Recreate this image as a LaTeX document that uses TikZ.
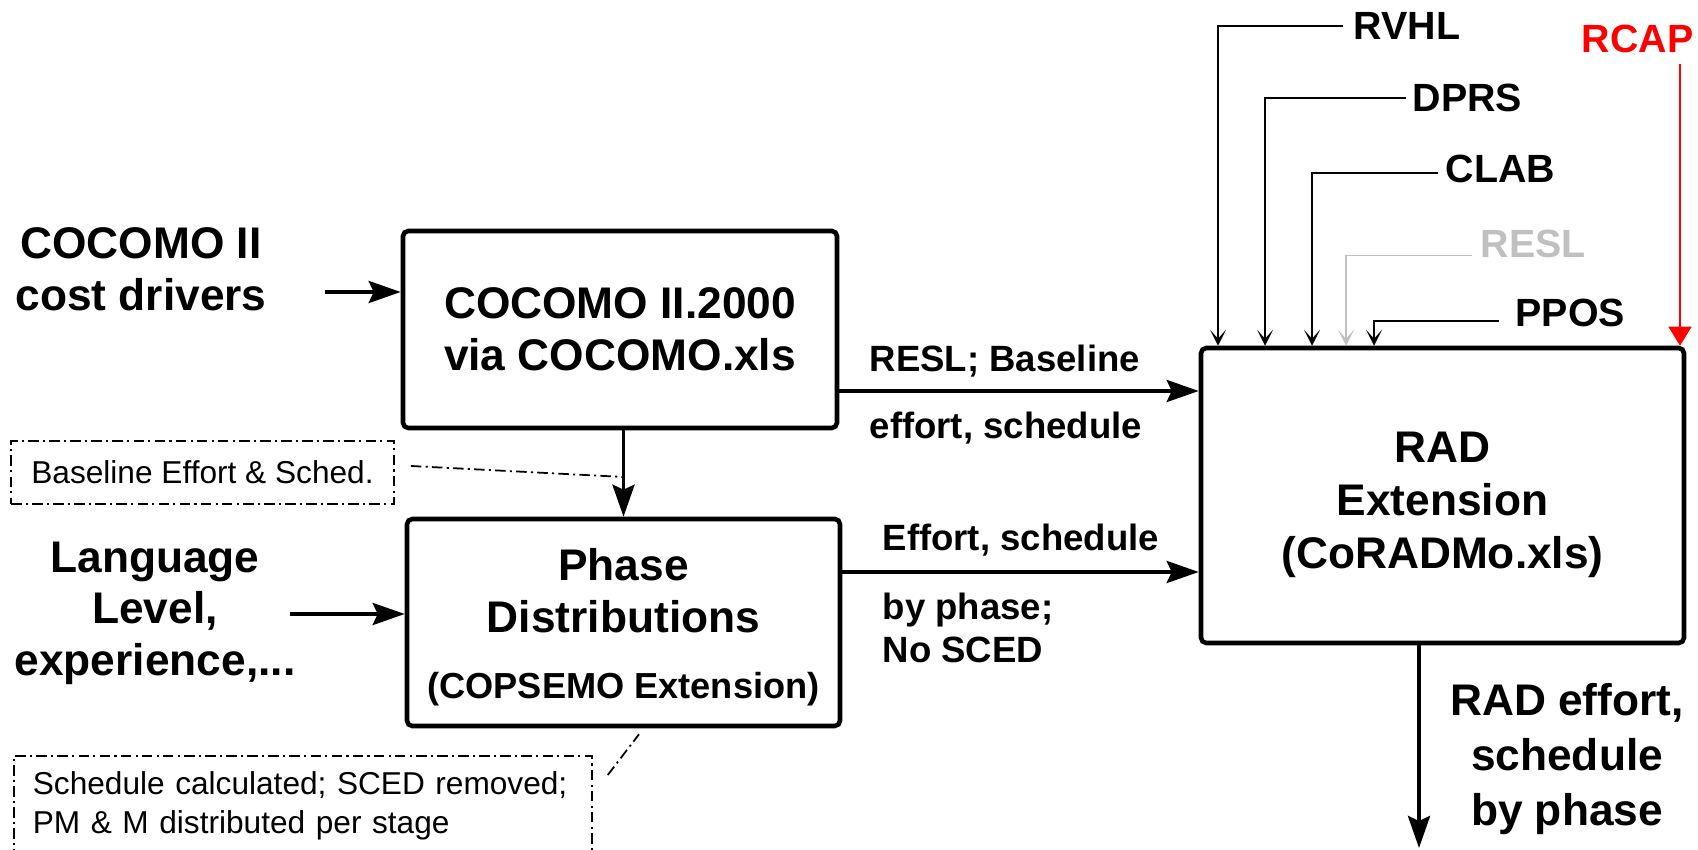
\documentclass[tikz,border=0pt]{standalone}
\usepackage{fontspec}
\setmainfont{Liberation Sans}
\usepackage{tikz}
\usetikzlibrary{arrows.meta,positioning,calc}
\definecolor{reslgray}{RGB}{192,192,192}
\definecolor{capred}{RGB}{255,0,0}

\begin{document}
\begin{tikzpicture}[
    model/.style={rectangle, draw, line width=1.3pt, rounded corners=1.5pt, align=center, inner sep=0pt,
        font=\fontsize{12.6}{14.7}\selectfont\bfseries},
    bigtext/.style={align=center, inner sep=0pt, font=\fontsize{12.6}{14.7}\selectfont\bfseries},
    resulttext/.style={align=center, inner sep=0pt, font=\fontsize{12.6}{15.7}\selectfont\bfseries},
    flowtext/.style={anchor=base west, inner sep=0pt, font=\fontsize{10.4}{12.3}\selectfont\bfseries},
    drivertext/.style={anchor=west, inner sep=0pt, font=\fontsize{11.2}{13}\selectfont\bfseries},
    notebox/.style={draw, dash pattern=on 3pt off 1.2pt on 0.6pt off 1.2pt, line width=0.5pt, font=\fontsize{9}{11}\selectfont},
    flow/.style={-{Stealth[length=3.2mm,width=2.2mm,inset=0.5mm]}, line width=1.1pt},
    driver/.style={-{Stealth[length=1.6mm,width=1.6mm,inset=0.9mm]}, line width=0.45pt},
    capflow/.style={-{Triangle[length=1.9mm,width=2.3mm]}, line width=0.5pt, capred},
    noteline/.style={dash pattern=on 3pt off 1.2pt on 0.6pt off 1.2pt, line width=0.5pt}
]
    \useasboundingbox (0,0) rectangle (16.98,-8.5);

    % models
    \node[model, minimum width=4.34cm, minimum height=1.97cm] (cocomo) at (6.20,-3.295) {COCOMO II.2000\\via COCOMO.xls};
    \node[model, minimum width=4.33cm, minimum height=2.07cm] (phase) at (6.235,-6.225)
        {\rule{0pt}{12pt}Phase\\Distributions\\[4.1pt]\fontsize{10.3}{12}\selectfont(COPSEMO Extension)};
    \node[model, minimum width=4.83cm, minimum height=2.95cm, font=\fontsize{12.6}{15}\selectfont\bfseries] (rad) at (14.425,-4.955)
        {\rule{0pt}{13.9pt}RAD\\Extension\\(CoRADMo.xls)};

    % inputs and output
    \node[bigtext] (drivers) at (1.41,-2.69) {COCOMO II\\cost drivers};
    \node[bigtext] (lang) at (1.55,-6.133) {Language\\Level,\\experience,...};
    \node[resulttext] (result) at (15.67,-7.59) {RAD effort,\\schedule\\by phase};
    \coordinate (in1) at (3.25,-2.92);
    \coordinate (in2) at (2.90,-6.14);
    \coordinate (out) at (14.19,-8.48);

    \draw[flow] (in1) -- (in1 -| cocomo.west);
    \draw[flow] (in2) -- (in2 -| phase.west);
    \draw[flow] (phase.north |- cocomo.south) -- (phase.north);
    \draw[flow] ([yshift=-6.15mm]cocomo.east) -- ([yshift=-6.15mm]cocomo.east -| rad.west);
    \draw[flow] ([yshift=5.05mm]phase.east) -- ([yshift=5.05mm]phase.east -| rad.west);
    \draw[flow] (out |- rad.south) -- (out);

    % flow labels
    \node[flowtext] (lbl1a) at (8.69,-3.715) {RESL; Baseline};
    \node[flowtext] (lbl1b) at (8.69,-4.385) {effort, schedule};
    \node[flowtext] (lbl2a) at (8.82,-5.51) {Effort, schedule};
    \node[flowtext] (lbl2b) at (8.82,-6.195) {by phase;};
    \node[flowtext] (lbl2c) at (8.82,-6.63) {No SCED};

    % notes
    \node[notebox, minimum width=3.83cm, minimum height=0.63cm, inner sep=0pt] (basenote) at (2.025,-4.725) {Baseline Effort \& Sched.};
    \node[notebox, anchor=north west, text width=5.40cm, align=left, inner xsep=1.9mm, inner ysep=1.6mm] (phasenote) at (0.13,-7.55)
        {Schedule calculated; SCED removed;\\PM \& M distributed per stage};
    \draw[noteline] ([xshift=1.6mm,yshift=0.65mm]basenote.east) -- (phase.north |- 0,-4.77);
    \draw[noteline] ([xshift=1.5mm,yshift=-2mm]phasenote.north east) -- ([xshift=1.55mm,yshift=-0.6mm]phase.south);

    % drivers into RAD
    \node[drivertext] (rvhl) at (13.53,-0.26) {RVHL};
    \node[drivertext] (dprs) at (14.12,-0.98) {DPRS};
    \node[drivertext] (clab) at (14.45,-1.69) {CLAB};
    \node[drivertext, text=reslgray] (resl) at (14.80,-2.435) {RESL};
    \node[drivertext] (ppos) at (15.15,-3.125) {PPOS};
    \node[drivertext, text=capred, anchor=center] (rcap) at (16.375,-0.39) {RCAP};

    \draw[driver] ([xshift=-1mm]rvhl.west) -| ([xshift=-22.45mm]rad.north);
    \draw[driver] ([xshift=-0.6mm]dprs.west) -| ([xshift=-17.75mm]rad.north);
    \draw[driver] ([xshift=-0.7mm,yshift=-0.4mm]clab.west) -| ([xshift=-13.05mm]rad.north);
    \draw[driver, reslgray] ([xshift=-0.8mm,yshift=-1.2mm]resl.west) -| ([xshift=-9.65mm]rad.north);
    \draw[driver] ([xshift=-1.6mm,yshift=-0.85mm]ppos.west) -| ([xshift=-6.85mm]rad.north);
    \draw[capflow] ([xshift=4.25mm,yshift=-1mm]rcap.south) -- ([xshift=4.25mm]rcap.south |- rad.north);
\end{tikzpicture}
\end{document}
